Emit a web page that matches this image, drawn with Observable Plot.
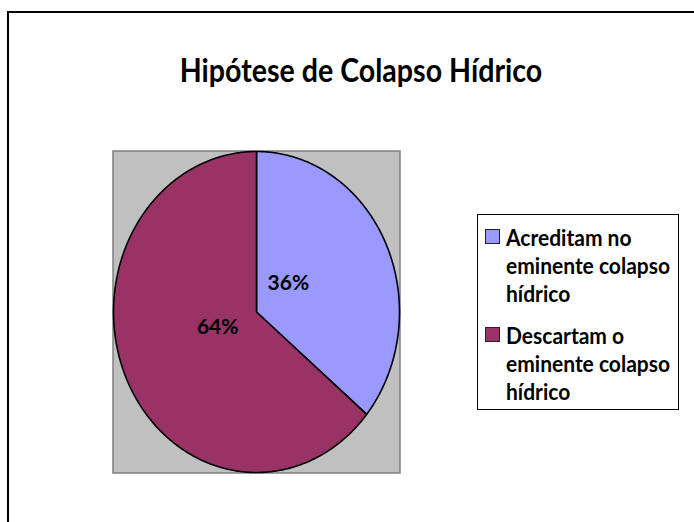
<!DOCTYPE html>
<html>
<head>
<meta charset="utf-8">
<script src="https://cdn.jsdelivr.net/npm/d3@7"></script>
<script src="https://cdn.jsdelivr.net/npm/@observablehq/plot@0.6"></script>
<style>
  html, body { margin: 0; padding: 0; background: #fff; }
  #wrap { position: relative; width: 694px; height: 522px; overflow: hidden; font-family: Lato, "Open Sans", sans-serif; font-weight: bold; color: #000; }
  #wrap svg { position: absolute; left: 0; top: 0; }
  .frameline { position: absolute; left: 7px; top: 11px; width: 700px; height: 600px; border-top: 2px solid #000; border-left: 2px solid #000; }
  .title { position: absolute; left: 0; width: 722px; text-align: center; font-size: 28.6px; line-height: 28px; top: 56px; transform: scaleY(1.1); transform-origin: center; white-space: nowrap; }
  .legend { position: absolute; left: 477px; top: 214px; width: 202px; height: 196px; box-sizing: border-box; border: 1.5px solid #000; background: #fff; }
  .sw { position: absolute; width: 15px; height: 15px; box-sizing: border-box; border: 1.3px solid #222; }
  .ll { position: absolute; height: 25px; line-height: 25px; font-size: 21px; white-space: nowrap; transform: scaleY(1.08); }
</style>
</head>
<body>
<div id="wrap"></div>
<script>
const title = "Hipótese de Colapso Hídrico";
const categories = ["Acreditam no eminente colapso hídrico", "Descartam o eminente colapso hídrico"];
const legendLines = [["Acreditam no", "eminente colapso", "hídrico"], ["Descartam o", "eminente colapso", "hídrico"]];
const values = [36, 64];
const valueLabels = ["36%", "64%"];
const colors = ["#9999ff", "#993366"];

const total = d3.sum(values);
const slices = [];
let acc = 0;
values.forEach((v, i) => {
  const a0 = acc / total * 2 * Math.PI;
  acc += v;
  const a1 = acc / total * 2 * Math.PI;
  const pts = [{x: 0, y: 0}];
  const n = Math.max(2, Math.ceil((a1 - a0) / (Math.PI / 360)));
  for (let k = 0; k <= n; k++) {
    const a = a0 + (a1 - a0) * k / n;
    pts.push({x: Math.sin(a), y: Math.cos(a)});
  }
  pts.push({x: 0, y: 0});
  slices.push({pts, color: colors[i], mid: (a0 + a1) / 2, label: valueLabels[i], cat: categories[i]});
});

const labelR = 0.3;
const labelOffsets = [[-7, -8], [0, -5]];
const labelMarks = slices.map((s, i) => Plot.text([{x: labelR * Math.sin(s.mid), y: labelR * Math.cos(s.mid), label: s.label}], {
  x: "x", y: "y", text: "label", fontFamily: "Lato", fontWeight: "bold", fontSize: 21, fill: "#000",
  dx: labelOffsets[i][0], dy: labelOffsets[i][1]
}));

const chart = Plot.plot({
  width: 694,
  height: 522,
  marginLeft: 113,
  marginRight: 295,
  marginTop: 151,
  marginBottom: 50,
  style: {background: "transparent", overflow: "visible"},
  x: {domain: [-1, 1], axis: null},
  y: {domain: [-1, 1], axis: null},
  marks: [
    Plot.frame({fill: "#c0c0c0", stroke: "#808080", strokeWidth: 1.5, inset: -0.5}),
    ...slices.map(s => Plot.line(s.pts, {x: "x", y: "y", fill: s.color, stroke: "#000", strokeWidth: 1.6, strokeLinejoin: "round", curve: "linear"})),
    ...labelMarks
  ]
});

const wrap = document.getElementById("wrap");
wrap.appendChild(chart);

const fl = document.createElement("div");
fl.className = "frameline";
wrap.appendChild(fl);

const t = document.createElement("div");
t.className = "title";
t.textContent = title;
wrap.appendChild(t);

const lg = document.createElement("div");
lg.className = "legend";
wrap.appendChild(lg);
legendLines.forEach((lines, i) => {
  const c0 = 237 + i * 98 - 214;
  const sw = document.createElement("div");
  sw.className = "sw";
  sw.style.left = (484 - 477) + "px";
  sw.style.top = (c0 - 9) + "px";
  sw.style.background = colors[i];
  lg.appendChild(sw);
  lines.forEach((txt, j) => {
    const d = document.createElement("div");
    d.className = "ll";
    d.style.left = (505 - 477) + "px";
    d.style.top = (c0 + j * 28 - 12.5 - 1.5) + "px";
    d.textContent = txt;
    lg.appendChild(d);
  });
});
</script>
</body>
</html>
